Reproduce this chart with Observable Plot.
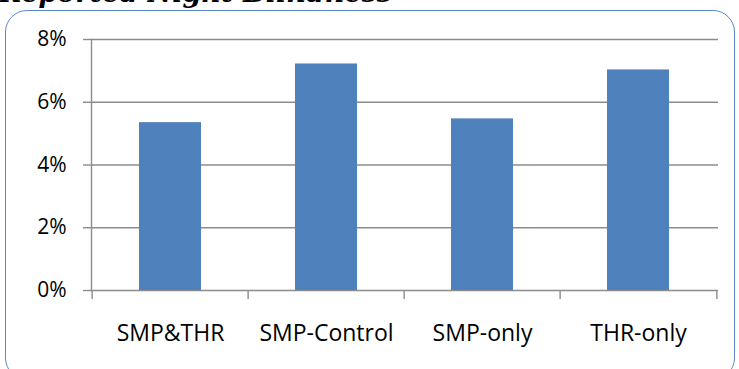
<!DOCTYPE html>
<html>
<head>
<meta charset="utf-8">
<script src="https://cdn.jsdelivr.net/npm/d3@7"></script>
<script src="https://cdn.jsdelivr.net/npm/@observablehq/plot@0.6"></script>
<style>
  html, body { margin: 0; padding: 0; background: #fff; }
  #wrap { position: relative; width: 739px; height: 369px; overflow: hidden; background: #fff; }
  #title { position: absolute; left: -1px; top: -22px; font-family: "DejaVu Serif", serif; font-weight: bold; font-style: italic; font-size: 27px; line-height: 30px; color: #000; white-space: nowrap; }
  #frame { position: absolute; left: 5px; top: 10px; width: 730px; height: 370px; border: 1.5px solid #5b88c6; border-radius: 22px; box-sizing: border-box; }
  #chart { position: absolute; left: 0; top: 0; }
</style>
</head>
<body>
<div id="wrap">
  <div id="title">Reported Night Blindness</div>
  <div id="frame"></div>
  <div id="chart"></div>
</div>
<script>
const categories = ["SMP&THR", "SMP-Control", "SMP-only", "THR-only"];
const values = [0.0535, 0.0722, 0.0547, 0.0703];
const yTicks = [0, 0.02, 0.04, 0.06, 0.08];

const data = categories.map((c, i) => ({cat: c, value: values[i]}));
const gray = "#8c8c8c";
const W = 739, ML = 91, MR = 21;
const step = (W - ML - MR) / categories.length;

const chart = Plot.plot({
  width: W,
  height: 369,
  marginLeft: ML,
  marginRight: MR,
  marginTop: 39,
  marginBottom: 79,
  style: {fontFamily: "'Open Sans', sans-serif", fontSize: "21px", color: "#000", background: "transparent"},
  x: {domain: categories, paddingInner: 0.6, paddingOuter: 0.3, align: 0.5, label: null},
  y: {domain: [0, 0.08], label: null},
  marks: [
    Plot.gridY(yTicks, {stroke: gray, strokeOpacity: 1, strokeWidth: 1.4}),
    Plot.barY(data, {x: "cat", y: "value", fill: "#4f81bd"}),
    Plot.frame({anchor: "left", stroke: gray, strokeWidth: 1.4}),
    Plot.axisY({ticks: yTicks, tickFormat: d3.format(".0%"), tickSize: 8, tickPadding: 17, stroke: gray, strokeWidth: 1.4, fontSize: 21, label: null}),
    Plot.axisX({tickSize: 9, text: null, dx: -step / 2, stroke: gray, strokeWidth: 1.4, label: null}),
    Plot.axisX({ticks: [categories[categories.length - 1]], tickSize: 9, text: null, dx: step / 2, stroke: gray, strokeWidth: 1.4, label: null}),
    Plot.axisX({tickSize: 0, tickPadding: 34, fontSize: 23, label: null})
  ]
});
document.getElementById("chart").appendChild(chart);
</script>
</body>
</html>
